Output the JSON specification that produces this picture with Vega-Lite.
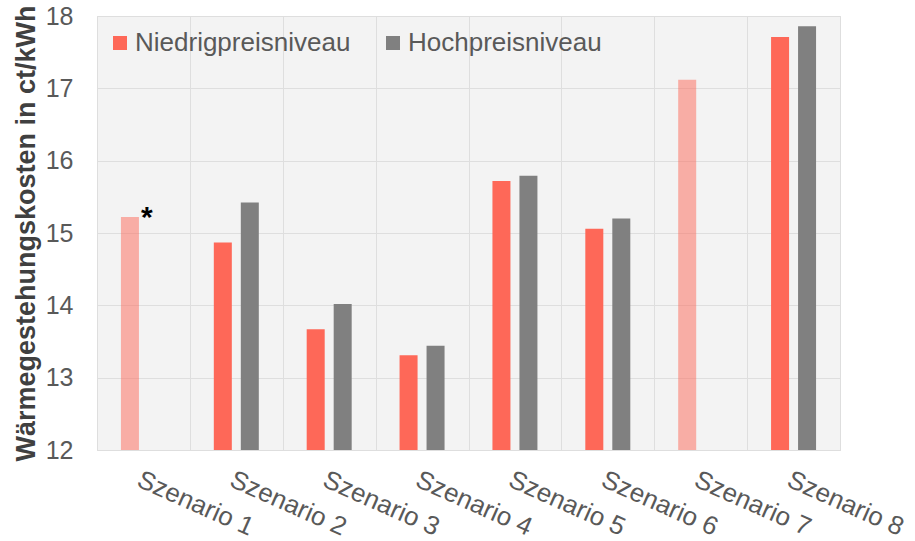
{
  "$schema": "https://vega.github.io/schema/vega-lite/v6.json",
  "width": 743,
  "height": 434,
  "autosize": {"type": "none"},
  "padding": {"left": 97, "top": 16, "right": 75, "bottom": 91},
  "background": "white",
  "config": {
    "font": "Liberation Sans",
    "view": {"fill": "#f3f3f3", "stroke": "#d9d9d9", "strokeWidth": 1},
    "axis": {
      "gridColor": "#dedede",
      "gridWidth": 1,
      "ticks": false,
      "domain": false,
      "labelColor": "#595959",
      "labelFontSize": 25,
      "labelLimit": 400
    }
  },
  "data": {
    "values": [
      {"Szenario": "Szenario 1", "Preisniveau": "Niedrigpreisniveau", "Kosten": 15.22, "Fussnote": "*"},
      {"Szenario": "Szenario 2", "Preisniveau": "Niedrigpreisniveau", "Kosten": 14.87},
      {"Szenario": "Szenario 2", "Preisniveau": "Hochpreisniveau", "Kosten": 15.42},
      {"Szenario": "Szenario 3", "Preisniveau": "Niedrigpreisniveau", "Kosten": 13.67},
      {"Szenario": "Szenario 3", "Preisniveau": "Hochpreisniveau", "Kosten": 14.02},
      {"Szenario": "Szenario 4", "Preisniveau": "Niedrigpreisniveau", "Kosten": 13.31},
      {"Szenario": "Szenario 4", "Preisniveau": "Hochpreisniveau", "Kosten": 13.44},
      {"Szenario": "Szenario 5", "Preisniveau": "Niedrigpreisniveau", "Kosten": 15.72},
      {"Szenario": "Szenario 5", "Preisniveau": "Hochpreisniveau", "Kosten": 15.79},
      {"Szenario": "Szenario 6", "Preisniveau": "Niedrigpreisniveau", "Kosten": 15.06},
      {"Szenario": "Szenario 6", "Preisniveau": "Hochpreisniveau", "Kosten": 15.2},
      {"Szenario": "Szenario 7", "Preisniveau": "Niedrigpreisniveau", "Kosten": 17.12},
      {"Szenario": "Szenario 8", "Preisniveau": "Niedrigpreisniveau", "Kosten": 17.71},
      {"Szenario": "Szenario 8", "Preisniveau": "Hochpreisniveau", "Kosten": 17.86}
    ]
  },
  "transform": [
    {"joinaggregate": [{"op": "count", "as": "anzahl"}], "groupby": ["Szenario"]}
  ],
  "encoding": {
    "x": {
      "field": "Szenario",
      "type": "nominal",
      "sort": null,
      "scale": {"paddingInner": 0, "paddingOuter": 0},
      "axis": {
        "title": null,
        "grid": true,
        "tickBand": "extent",
        "labelAngle": 24,
        "labelAlign": "left",
        "labelBaseline": "top",
        "labelPadding": 16,
        "labelFontSize": 26,
        "labelOverlap": false
      }
    },
    "xOffset": {
      "field": "Preisniveau",
      "sort": ["Niedrigpreisniveau", "Hochpreisniveau"],
      "scale": {"paddingInner": 0.333, "paddingOuter": 0.887}
    },
    "y": {
      "field": "Kosten",
      "type": "quantitative",
      "scale": {"domain": [12, 18], "zero": false, "nice": false},
      "axis": {
        "values": [12, 13, 14, 15, 16, 17, 18],
        "grid": true,
        "labelPadding": 24,
        "title": "Wärmegestehungskosten in ct/kWh",
        "titleFontSize": 27,
        "titleFontWeight": "bold",
        "titleColor": "#404040",
        "titlePadding": 5
      }
    }
  },
  "layer": [
    {
      "mark": {"type": "bar", "clip": true},
      "encoding": {
        "color": {
          "field": "Preisniveau",
          "type": "nominal",
          "scale": {
            "domain": ["Niedrigpreisniveau", "Hochpreisniveau"],
            "range": ["#fe6858", "#808080"]
          },
          "legend": {
            "title": null,
            "orient": "none",
            "direction": "horizontal",
            "legendX": 10,
            "legendY": 14,
            "padding": 0,
            "symbolType": "square",
            "symbolSize": 196,
            "symbolStrokeWidth": 0,
            "labelFontSize": 26,
            "labelLimit": 400,
            "labelColor": "#595959",
            "labelOffset": 2,
            "columnPadding": 29
          }
        },
        "opacity": {
          "condition": {"test": "datum.anzahl == 1", "value": 0.5},
          "value": 1
        }
      }
    },
    {
      "transform": [{"filter": "datum.Fussnote"}],
      "mark": {
        "type": "text",
        "dx": 17,
        "dy": 10,
        "fontSize": 30,
        "fontWeight": "bold",
        "color": "black",
        "baseline": "alphabetic"
      },
      "encoding": {"text": {"field": "Fussnote"}}
    }
  ]
}
